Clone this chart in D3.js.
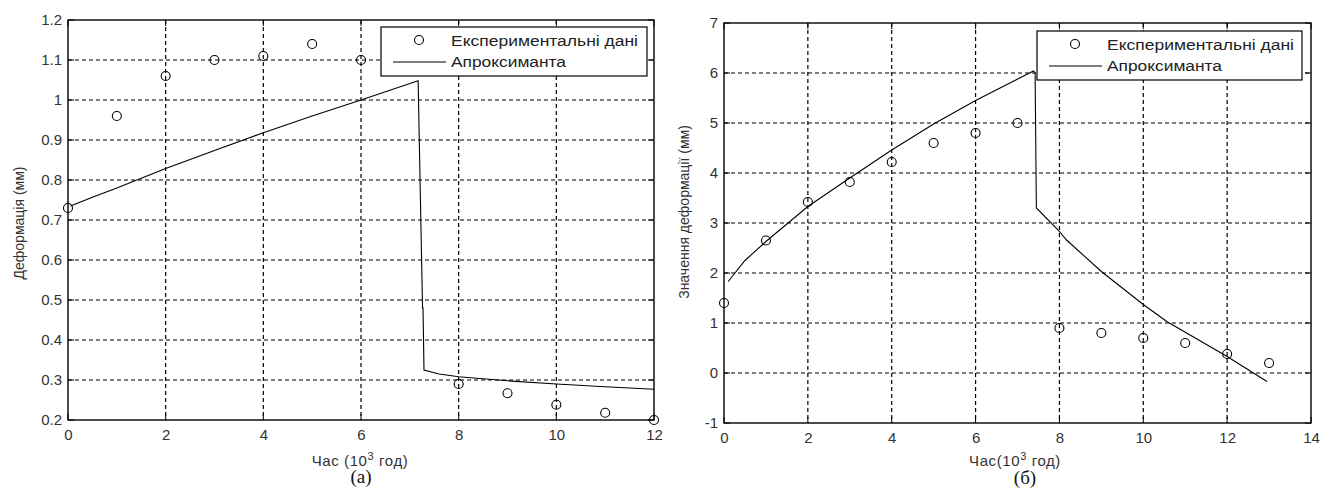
<!DOCTYPE html>
<html>
<head>
<meta charset="utf-8">
<script src="https://cdn.jsdelivr.net/npm/d3@7"></script>
<style>
  body { margin: 0; background: #fff; }
  svg { display: block; font-family: "Liberation Sans", Arial, sans-serif; }
</style>
</head>
<body>
<svg width="1328" height="489"></svg>
<script>
// ---- data: panel (a) ----
const expTimeA = [0, 1, 2, 3, 4, 5, 6, 8, 9, 10, 11, 12];
const expDefA  = [0.73, 0.96, 1.06, 1.10, 1.11, 1.14, 1.10, 0.29, 0.267, 0.238, 0.218, 0.20];
const fitTimeA = [0.05, 0.5, 1, 2, 3, 4, 5, 6, 7.17, 7.26, 7.27, 7.29, 7.6, 8, 9, 10, 11, 12];
const fitDefA  = [0.735, 0.757, 0.78, 0.829, 0.874, 0.918, 0.96, 1.0, 1.048, 0.48, 0.48, 0.325, 0.315, 0.308, 0.298, 0.29, 0.283, 0.277];
const xTicksA = [0, 2, 4, 6, 8, 10, 12];
const yTicksA = [0.2, 0.3, 0.4, 0.5, 0.6, 0.7, 0.8, 0.9, 1, 1.1, 1.2];

// ---- data: panel (б) ----
const expTimeB = [0, 1, 2, 3, 4, 5, 6, 7, 8, 9, 10, 11, 12, 13];
const expDefB  = [1.4, 2.65, 3.42, 3.82, 4.22, 4.6, 4.8, 5.0, 0.9, 0.8, 0.7, 0.6, 0.38, 0.2];
const fitTimeB = [0.1, 0.5, 1, 2, 3, 4, 5, 6, 7.38, 7.42, 7.45, 7.97, 8.17, 9, 10, 10.56, 12, 12.95];
const fitDefB  = [1.83, 2.25, 2.63, 3.33, 3.9, 4.46, 4.98, 5.45, 6.04, 6.0, 3.3, 2.86, 2.66, 2.03, 1.37, 1.03, 0.33, -0.17];
const xTicksB = [0, 2, 4, 6, 8, 10, 12, 14];
const yTicksB = [-1, 0, 1, 2, 3, 4, 5, 6, 7];

const legendLabels = ["Експериментальні дані", "Апроксиманта"];
const legendWidths = [187, 115];

const svg = d3.select("svg");
svg.append("rect").attr("width", 1328).attr("height", 489).attr("fill", "#fff");

// MATLAB-like labels: plain hyphen for negatives
const fmt = d => String(d);

function drawPanel(o) {
  const x = d3.scaleLinear().domain(o.xDomain).range([o.left, o.right]);
  const y = d3.scaleLinear().domain(o.yDomain).range([o.bottom, o.top]);
  const g = svg.append("g");

  // dashed grid
  g.selectAll(".gx").data(o.xTicks.slice(1, -1)).enter().append("line")
    .attr("x1", d => x(d)).attr("x2", d => x(d))
    .attr("y1", o.top).attr("y2", o.bottom)
    .attr("stroke", "#000").attr("stroke-width", 1.2).attr("stroke-dasharray", "4,3");
  g.selectAll(".gy").data(o.yTicks.slice(1, -1)).enter().append("line")
    .attr("y1", d => y(d)).attr("y2", d => y(d))
    .attr("x1", o.left).attr("x2", o.right)
    .attr("stroke", "#000").attr("stroke-width", 1.2).attr("stroke-dasharray", "4,3");

  // tick labels via axes
  const ax = g.append("g").attr("transform", `translate(0,${o.bottom})`)
    .call(d3.axisBottom(x).tickValues(o.xTicks).tickSize(0).tickPadding(6).tickFormat(fmt));
  const ay = g.append("g").attr("transform", `translate(${o.left},0)`)
    .call(d3.axisLeft(y).tickValues(o.yTicks).tickSize(0).tickPadding(6).tickFormat(fmt));
  [ax, ay].forEach(a => {
    a.select(".domain").remove();
    a.selectAll("text").attr("font-size", 15).attr("fill", "#333").attr("font-family", "Liberation Sans, Arial, sans-serif");
  });
  ax.selectAll("text").attr("dy", "0.9em");

  // inner tick marks on all sides
  o.xTicks.forEach(t => {
    g.append("line").attr("x1", x(t)).attr("x2", x(t)).attr("y1", o.bottom).attr("y2", o.bottom - 6).attr("stroke", "#000");
    g.append("line").attr("x1", x(t)).attr("x2", x(t)).attr("y1", o.top).attr("y2", o.top + 6).attr("stroke", "#000");
  });
  o.yTicks.forEach(t => {
    g.append("line").attr("y1", y(t)).attr("y2", y(t)).attr("x1", o.left).attr("x2", o.left + 6).attr("stroke", "#000");
    g.append("line").attr("y1", y(t)).attr("y2", y(t)).attr("x1", o.right).attr("x2", o.right - 6).attr("stroke", "#000");
  });

  // approximant line
  const line = d3.line().x(d => x(d[0])).y(d => y(d[1]));
  g.append("path").datum(d3.zip(o.fitT, o.fitV))
    .attr("d", line).attr("fill", "none").attr("stroke", "#000").attr("stroke-width", 1.1);

  // experimental points
  g.selectAll(".pt").data(d3.zip(o.expT, o.expV)).enter().append("circle")
    .attr("cx", d => x(d[0])).attr("cy", d => y(d[1])).attr("r", 4.5)
    .attr("fill", "none").attr("stroke", "#000").attr("stroke-width", 1.1);

  // frame
  g.append("rect").attr("x", o.left).attr("y", o.top)
    .attr("width", o.right - o.left).attr("height", o.bottom - o.top)
    .attr("fill", "none").attr("stroke", "#000").attr("stroke-width", 1.4);

  // legend
  const L = o.legend;
  const lg = g.append("g");
  lg.append("rect").attr("x", L.x).attr("y", L.y).attr("width", L.w).attr("height", L.h)
    .attr("fill", "#fff").attr("stroke", "#000").attr("stroke-width", 1.2);
  lg.append("circle").attr("cx", L.x + 38).attr("cy", L.y + 13).attr("r", 4.5)
    .attr("fill", "none").attr("stroke", "#000").attr("stroke-width", 1.1);
  lg.append("line").attr("x1", L.x + 12).attr("x2", L.x + 65).attr("y1", L.y + 35).attr("y2", L.y + 35)
    .attr("stroke", "#000").attr("stroke-width", 1.1);
  legendLabels.forEach((s, i) => {
    lg.append("text").attr("x", L.x + 70).attr("y", L.y + 19 + i * 21)
      .attr("font-size", 15.5).attr("fill", "#222")
      .attr("textLength", legendWidths[i]).attr("lengthAdjust", "spacingAndGlyphs").text(s);
  });

  // axis labels
  const xl = g.append("text").attr("x", o.xLabelX).attr("y", o.xLabelY)
    .attr("text-anchor", "middle").attr("font-size", 15).attr("letter-spacing", 0.6).attr("fill", "#333");
  xl.append("tspan").text(o.xLabelPre);
  xl.append("tspan").attr("dy", -6).attr("font-size", 11).text("3");
  xl.append("tspan").attr("dy", 6).text(" год)");

  g.append("text").attr("transform", `translate(${o.yLabelX},${o.yLabelY}) rotate(-90)`)
    .attr("text-anchor", "middle").attr("font-size", 14).attr("fill", "#333").text(o.yLabel);

  g.append("text").attr("x", o.capX).attr("y", o.capY).attr("text-anchor", "middle")
    .attr("font-family", "Liberation Serif, Times New Roman, serif").attr("font-size", 19)
    .attr("fill", "#111").text(o.caption);
}

drawPanel({
  xDomain: [0, 12], yDomain: [0.2, 1.2],
  left: 68, right: 654, top: 20, bottom: 420,
  xTicks: xTicksA, yTicks: yTicksA,
  expT: expTimeA, expV: expDefA, fitT: fitTimeA, fitV: fitDefA,
  legend: { x: 381, y: 27, w: 266, h: 49 },
  xLabelPre: "Час (10", xLabelX: 360, xLabelY: 466,
  yLabel: "Деформація (мм)", yLabelX: 24, yLabelY: 223,
  caption: "(а)", capX: 361, capY: 483
});

drawPanel({
  xDomain: [0, 14], yDomain: [-1, 7],
  left: 724, right: 1311, top: 23, bottom: 423,
  xTicks: xTicksB, yTicks: yTicksB,
  expT: expTimeB, expV: expDefB, fitT: fitTimeB, fitV: fitDefB,
  legend: { x: 1037, y: 31, w: 265, h: 49 },
  xLabelPre: "Час(10", xLabelX: 1015, xLabelY: 466,
  yLabel: "Значення деформації (мм)", yLabelX: 689, yLabelY: 212,
  caption: "(б)", capX: 1025, capY: 484
});
</script>
</body>
</html>
